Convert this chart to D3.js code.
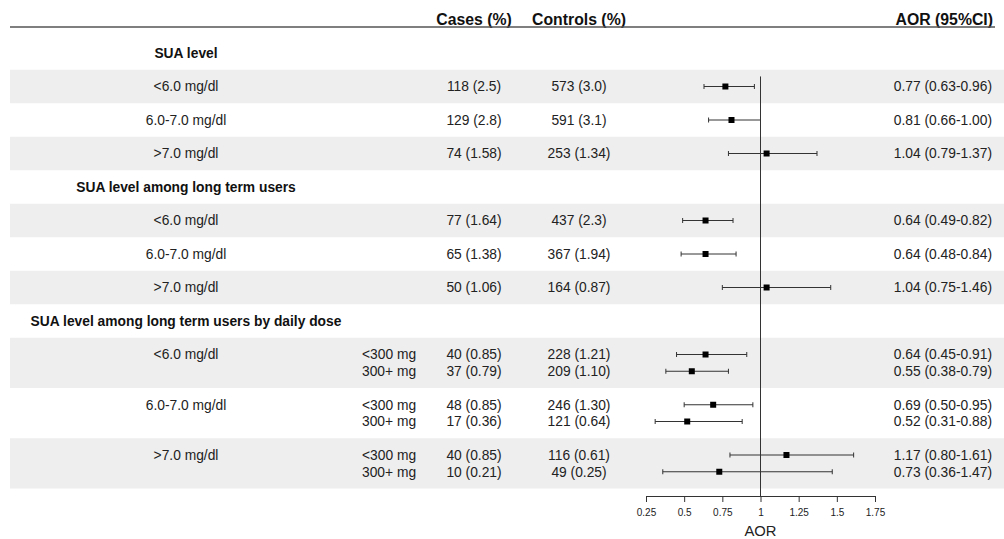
<!DOCTYPE html>
<html lang="en">
<head>
    <meta charset="UTF-8">
    <title>forest_sua</title>
    <script src="https://d3js.org/d3.v7.min.js"></script>
    <style>
        body { margin: 0; background: #fff; }
        svg { display: block; font-family: "Liberation Sans", Arial, sans-serif; }
        .cell { font-size: 13.8px; fill: #222; }
        .section { font-size: 13.8px; font-weight: bold; fill: #111; }
        .colhead { font-size: 15.8px; font-weight: bold; fill: #111; }
        .tick-label { font-size: 10px; fill: #222; }
    </style>
</head>
<body>
<div id="chart"></div>
<script>
    const width = 1004;
    const height = 539;

    // column headers
    const columnHeaders = ["Cases (%)", "Controls (%)", "AOR (95%CI)"];
    const sections = ["SUA level", "SUA level among long term users", "SUA level among long term users by daily dose"];
    const levels = ["<6.0 mg/dl", "6.0-7.0 mg/dl", ">7.0 mg/dl"];
    const doses = ["<300 mg", "300+ mg"];

    // section 1 : SUA level
    const s1Cases = ["118 (2.5)", "129 (2.8)", "74 (1.58)"];
    const s1Controls = ["573 (3.0)", "591 (3.1)", "253 (1.34)"];
    const s1Aor = [0.77, 0.81, 1.04];
    const s1Lo = [0.63, 0.66, 0.79];
    const s1Hi = [0.96, 1.00, 1.37];

    // section 2 : long term users
    const s2Cases = ["77 (1.64)", "65 (1.38)", "50 (1.06)"];
    const s2Controls = ["437 (2.3)", "367 (1.94)", "164 (0.87)"];
    const s2Aor = [0.64, 0.64, 1.04];
    const s2Lo = [0.49, 0.48, 0.75];
    const s2Hi = [0.82, 0.84, 1.46];

    // section 3 : long term users by daily dose (level x dose)
    const s3Cases = ["40 (0.85)", "37 (0.79)", "48 (0.85)", "17 (0.36)", "40 (0.85)", "10 (0.21)"];
    const s3Controls = ["228 (1.21)", "209 (1.10)", "246 (1.30)", "121 (0.64)", "116 (0.61)", "49 (0.25)"];
    const s3Aor = [0.64, 0.55, 0.69, 0.52, 1.17, 0.73];
    const s3Lo = [0.45, 0.38, 0.50, 0.31, 0.80, 0.36];
    const s3Hi = [0.91, 0.79, 0.95, 0.88, 1.61, 1.47];

    const xTicks = [0.25, 0.5, 0.75, 1, 1.25, 1.5, 1.75];

    const svg = d3.select("#chart").append("svg")
        .attr("width", width)
        .attr("height", height);

    // y: one slot per table line
    const y = d3.scaleLinear().domain([0, 13]).range([53, 53 + 13 * 33.5]);
    const x = d3.scaleLinear().domain([0.25, 1.75]).range([646, 875]);

    const col = { label: 186, dose: 362, cases: 474, controls: 579, aor: 992 };

    // build the flat list of rows
    const rows = [];
    levels.forEach((lv, i) => rows.push({ slot: 1 + i, label: lv, cases: s1Cases[i], controls: s1Controls[i], aor: s1Aor[i], lo: s1Lo[i], hi: s1Hi[i] }));
    levels.forEach((lv, i) => rows.push({ slot: 5 + i, label: lv, cases: s2Cases[i], controls: s2Controls[i], aor: s2Aor[i], lo: s2Lo[i], hi: s2Hi[i] }));
    levels.forEach((lv, i) => {
        doses.forEach((ds, j) => {
            const k = i * 2 + j;
            rows.push({ slot: 9 + i * 1.5 + j * 0.5, label: j === 0 ? lv : null, dose: ds, cases: s3Cases[k], controls: s3Controls[k], aor: s3Aor[k], lo: s3Lo[k], hi: s3Hi[k] });
        });
    });

    // grey bands
    const bands = [[0.5, 1.5], [2.5, 3.5], [4.5, 5.5], [6.5, 7.5], [8.5, 10], [11.5, 13]];
    svg.selectAll(".band").data(bands).enter().append("rect")
        .attr("class", "band")
        .attr("x", 10).attr("width", width - 10)
        .attr("y", d => y(d[0]))
        .attr("height", d => y(d[1]) - y(d[0]))
        .attr("fill", "#eeeeee");

    // header
    const headX = [col.cases, col.controls, col.aor + 1];
    svg.selectAll(".colhead").data(columnHeaders).enter().append("text")
        .attr("class", "colhead")
        .attr("x", (d, i) => headX[i])
        .attr("y", 25)
        .attr("text-anchor", (d, i) => i === 2 ? "end" : "middle")
        .text(d => d);
    svg.append("line")
        .attr("x1", 10).attr("x2", 995)
        .attr("y1", 27).attr("y2", 27)
        .attr("stroke", "#555").attr("stroke-width", 1.5);

    // section titles
    const secSlots = [0, 4, 8];
    svg.selectAll(".section").data(sections).enter().append("text")
        .attr("class", "section")
        .attr("x", col.label)
        .attr("y", (d, i) => y(secSlots[i]))
        .attr("dy", "0.35em")
        .attr("text-anchor", "middle")
        .text(d => d);

    // table cells
    const g = svg.selectAll(".row").data(rows).enter().append("g").attr("class", "row");
    g.filter(d => d.label).append("text").attr("class", "cell")
        .attr("x", col.label).attr("y", d => y(d.slot)).attr("dy", "0.35em")
        .attr("text-anchor", "middle").text(d => d.label);
    g.filter(d => d.dose).append("text").attr("class", "cell")
        .attr("x", col.dose).attr("y", d => y(d.slot)).attr("dy", "0.35em")
        .text(d => d.dose);
    g.append("text").attr("class", "cell")
        .attr("x", col.cases).attr("y", d => y(d.slot)).attr("dy", "0.35em")
        .attr("text-anchor", "middle").text(d => d.cases);
    g.append("text").attr("class", "cell")
        .attr("x", col.controls).attr("y", d => y(d.slot)).attr("dy", "0.35em")
        .attr("text-anchor", "middle").text(d => d.controls);
    g.append("text").attr("class", "cell")
        .attr("x", col.aor).attr("y", d => y(d.slot)).attr("dy", "0.35em")
        .attr("text-anchor", "end")
        .text(d => `${d.aor.toFixed(2)} (${d.lo.toFixed(2)}-${d.hi.toFixed(2)})`);

    // reference line at 1
    const axisY = y(13) + 7.5;
    svg.append("line")
        .attr("x1", x(1)).attr("x2", x(1))
        .attr("y1", y(0.7)).attr("y2", axisY)
        .attr("stroke", "#333").attr("stroke-width", 1);

    // confidence intervals
    g.append("line")
        .attr("x1", d => x(d.lo)).attr("x2", d => x(d.hi))
        .attr("y1", d => y(d.slot)).attr("y2", d => y(d.slot))
        .attr("stroke", "#333").attr("stroke-width", 1);
    g.selectAll(".cap").data(d => [[d.lo, d.slot], [d.hi, d.slot]]).enter().append("line")
        .attr("x1", d => x(d[0])).attr("x2", d => x(d[0]))
        .attr("y1", d => y(d[1]) - 2.5).attr("y2", d => y(d[1]) + 2.5)
        .attr("stroke", "#333").attr("stroke-width", 1);
    g.append("rect")
        .attr("x", d => x(d.aor) - 3).attr("y", d => y(d.slot) - 3)
        .attr("width", 6).attr("height", 6)
        .attr("fill", "#000");

    // x axis
    const axis = svg.append("g")
        .attr("transform", `translate(0,${axisY})`)
        .call(d3.axisBottom(x).tickValues(xTicks).tickSize(6).tickPadding(7).tickFormat(d3.format("")));
    axis.select(".domain").attr("stroke", "#333");
    axis.selectAll(".tick line").attr("stroke", "#333");
    axis.selectAll(".tick text").attr("class", "tick-label").attr("font-family", null).attr("font-size", null).attr("fill", null);

    svg.append("text")
        .attr("x", x(1)).attr("y", 536)
        .attr("text-anchor", "middle")
        .attr("font-size", "14.8px").attr("fill", "#222")
        .text("AOR");
</script>
</body>
</html>
